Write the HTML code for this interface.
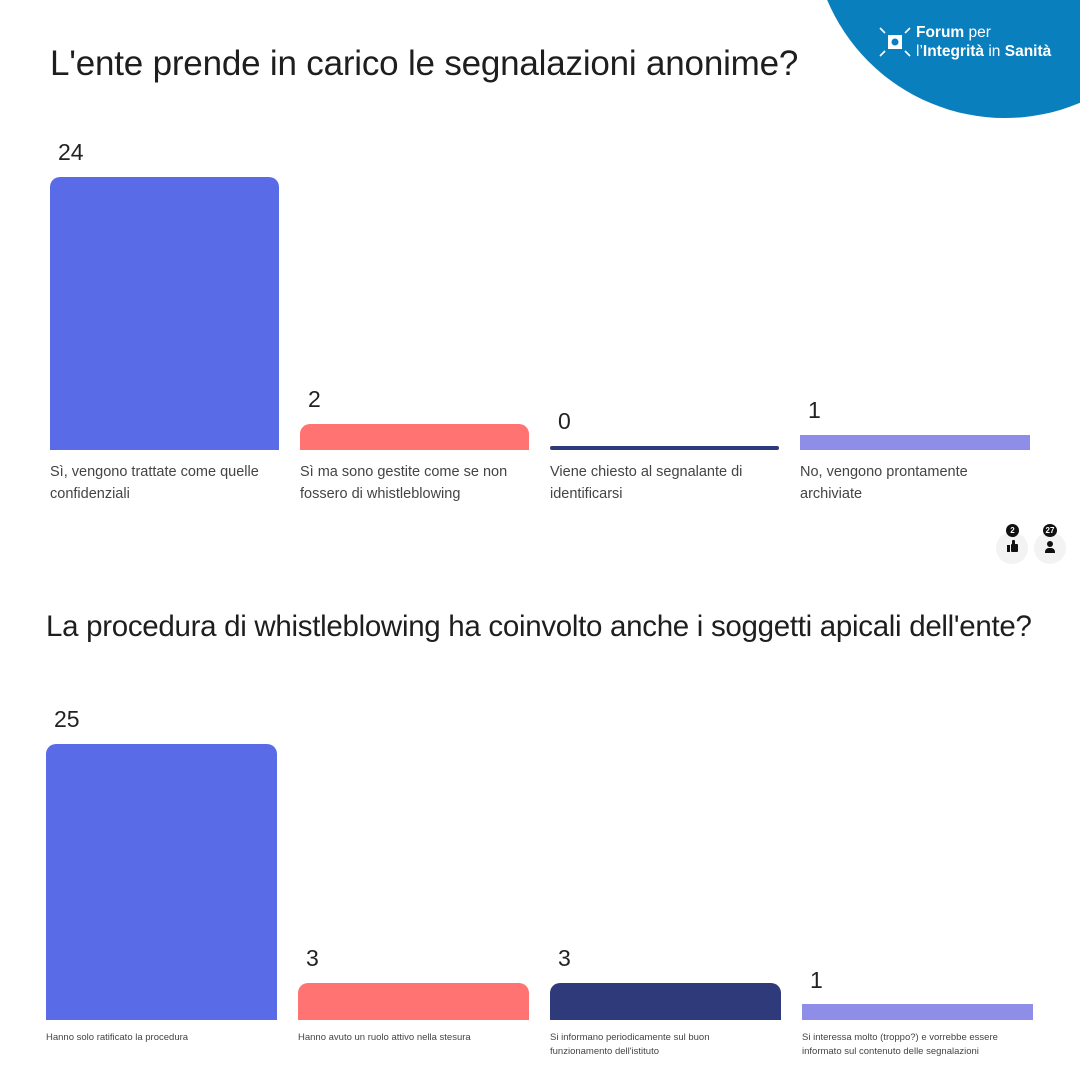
<!DOCTYPE html>
<html><head><meta charset="utf-8"><style>
body{margin:0;width:1080px;height:1080px;background:#fff;position:relative;overflow:hidden;font-family:"Liberation Sans",sans-serif;color:#222}
div,span{position:absolute}
.t{font-size:35px;color:#1e1e1e;white-space:nowrap;letter-spacing:-0.2px}
.v{font-size:23px;color:#222}
.l{font-size:14.5px;color:#444;line-height:22px}
.s{font-size:9.5px;color:#444;line-height:14px}
.b{border-radius:10px 10px 0 0}
</style></head><body>
<div style="left:812px;top:-268px;width:386px;height:386px;border-radius:50%;background:#0a7fbd"></div>
<svg style="position:absolute;left:878px;top:26px" width="34" height="32"><g stroke="#fff" stroke-width="1.6"><line x1="2" y1="2" x2="7" y2="7"/><line x1="32" y1="2" x2="27" y2="7"/><line x1="2" y1="30" x2="7" y2="25"/><line x1="32" y1="30" x2="27" y2="25"/></g><rect x="10" y="9" width="14" height="14" fill="#fff"/><circle cx="17" cy="16" r="3.5" fill="#0a7fbd"/></svg>
<div style="left:916px;top:23px;color:#fff;font-size:15.5px;line-height:19px;white-space:nowrap"><b>Forum</b> per<br>l’<b>Integrità</b> in <b>Sanità</b></div>

<div class="t" style="left:50px;top:44px">L'ente prende in carico le segnalazioni anonime?</div>
<div class="v" style="left:58px;top:139px">24</div>
<div class="v" style="left:308px;top:386px">2</div>
<div class="v" style="left:558px;top:408px">0</div>
<div class="v" style="left:808px;top:397px">1</div>
<div class="b" style="left:50px;top:177px;width:229px;height:273px;background:#5a6be8"></div>
<div class="b" style="left:300px;top:424px;width:229px;height:26px;background:#ff7373"></div>
<div style="left:550px;top:446px;width:229px;height:4px;background:#2f3a7a;border-radius:2px"></div>
<div style="left:800px;top:435px;width:230px;height:15px;background:#8e8ee8"></div>
<div class="l" style="left:50px;top:461px;width:240px">Sì, vengono trattate come quelle confidenziali</div>
<div class="l" style="left:300px;top:461px;width:240px">Sì ma sono gestite come se non fossero di whistleblowing</div>
<div class="l" style="left:550px;top:461px;width:220px">Viene chiesto al segnalante di identificarsi</div>
<div class="l" style="left:800px;top:461px;width:220px">No, vengono prontamente archiviate</div>

<div style="left:996px;top:532px;width:32px;height:32px;border-radius:50%;background:#f3f3f3"></div>
<div style="left:1034px;top:532px;width:32px;height:32px;border-radius:50%;background:#f3f3f3"></div>
<div style="left:1006px;top:524px;width:13px;height:13px;border-radius:50%;background:#111;color:#fff;font-size:8px;text-align:center;line-height:13px;font-weight:bold">2</div>
<div style="left:1043px;top:524px;width:14px;height:13px;border-radius:50%;background:#111;color:#fff;font-size:8px;text-align:center;line-height:13px;font-weight:bold">27</div>
<div style="left:1007px;top:545px;width:3px;height:7px;background:#111"></div>
<div style="left:1011px;top:544px;width:7px;height:8px;background:#111;border-radius:1px"></div>
<div style="left:1012px;top:540px;width:3px;height:5px;background:#111;border-radius:1px"></div>
<div style="left:1047px;top:541px;width:6px;height:6px;border-radius:50%;background:#111"></div>
<div style="left:1045px;top:548px;width:10px;height:5px;border-radius:4px 4px 0 0;background:#111"></div>

<div class="t" style="left:46px;top:610px;font-size:29.5px;letter-spacing:-0.3px">La procedura di whistleblowing ha coinvolto anche i soggetti apicali dell'ente?</div>
<div class="v" style="left:54px;top:706px">25</div>
<div class="v" style="left:306px;top:945px">3</div>
<div class="v" style="left:558px;top:945px">3</div>
<div class="v" style="left:810px;top:967px">1</div>
<div class="b" style="left:46px;top:744px;width:231px;height:276px;background:#5a6be8"></div>
<div class="b" style="left:298px;top:983px;width:231px;height:37px;background:#ff7373"></div>
<div class="b" style="left:550px;top:983px;width:231px;height:37px;background:#2f3a7a"></div>
<div style="left:802px;top:1004px;width:231px;height:16px;background:#8e8ee8"></div>
<div class="s" style="left:46px;top:1031px;width:231px">Hanno solo ratificato la procedura</div>
<div class="s" style="left:298px;top:1031px;width:231px">Hanno avuto un ruolo attivo nella stesura</div>
<div class="s" style="left:550px;top:1031px;width:200px">Si informano periodicamente sul buon funzionamento dell'istituto</div>
<div class="s" style="left:802px;top:1031px;width:231px">Si interessa molto (troppo?) e vorrebbe essere informato sul contenuto delle segnalazioni</div>
</body></html>
